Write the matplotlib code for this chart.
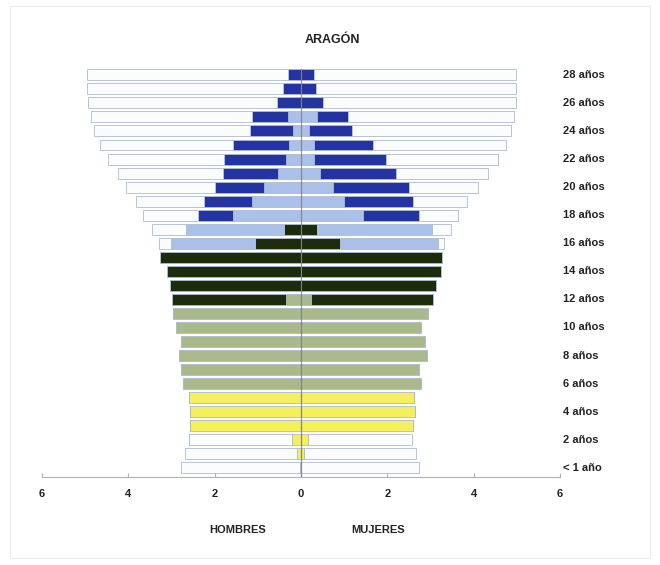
import numpy as np
import matplotlib
matplotlib.use('Agg')
import matplotlib.pyplot as plt
from matplotlib.patches import Rectangle

plt.rcParams['font.family'] = ['Liberation Sans', 'DejaVu Sans']

# edades 0..28
ages = np.arange(29)
age_labels = ['< 1 año'] + ['{} años'.format(a) for a in range(2, 29, 2)]
label_ages = [0] + list(range(2, 29, 2))

# miles de personas por nivel, desde el centro hacia fuera
# HOMBRES
h_infantil = [0.02, 0.09, 0.20, 2.57, 2.56, 2.59] + [0] * 23
h_primaria = [0] * 6 + [2.73, 2.78, 2.83, 2.78, 2.90, 2.97, 0.35] + [0] * 16
h_eso = [0] * 12 + [2.63, 3.03, 3.10, 3.27, 1.07, 0.39] + [0] * 11
h_post = [0] * 16 + [1.94, 2.27, 1.57, 1.14, 0.86, 0.54, 0.35, 0.28, 0.18, 0.31, 0, 0, 0]
h_univ = [0] * 18 + [0.81, 1.10, 1.13, 1.26, 1.43, 1.29, 0.99, 0.83, 0.55, 0.41, 0.31]
h_none = [2.76, 2.60, 2.39] + [0] * 13 + [0.28, 0.80, 1.27, 1.58, 2.07, 2.45, 2.70, 3.09, 3.63, 3.73, 4.38, 4.54, 4.65]

# MUJERES
m_infantil = [0.01, 0.07, 0.17, 2.60, 2.64, 2.62] + [0] * 23
m_primaria = [0] * 6 + [2.77, 2.74, 2.91, 2.87, 2.78, 2.95, 0.23] + [0] * 16
m_eso = [0] * 12 + [2.82, 3.12, 3.24, 3.27, 0.90, 0.36] + [0] * 11
m_post = [0] * 16 + [2.27, 2.67, 1.44, 1.00, 0.75, 0.44, 0.30, 0.29, 0.19, 0.36, 0, 0, 0]
m_univ = [0] * 18 + [1.30, 1.60, 1.76, 1.75, 1.66, 1.37, 0.98, 0.72, 0.52, 0.35, 0.29]
m_none = [2.72, 2.59, 2.39] + [0] * 13 + [0.15, 0.44, 0.89, 1.24, 1.60, 2.15, 2.61, 3.09, 3.69, 3.85, 4.46, 4.63, 4.69]

colors = ['#f4ef5a', '#a9b98a', '#1b2c0c', '#abc0e8', '#2333a1', '#fbfcfe']

fig = plt.figure(figsize=(6.6, 5.65), dpi=100)
ax = fig.add_axes([0.0636, 0.1558, 0.7849, 0.7292])

men = [h_infantil, h_primaria, h_eso, h_post, h_univ, h_none]
women = [m_infantil, m_primaria, m_eso, m_post, m_univ, m_none]

left_m = np.zeros(len(ages))
left_w = np.zeros(len(ages))
for vals_h, vals_m, c in zip(men, women, colors):
    vh = np.array(vals_h)
    vm = np.array(vals_m)
    ax.barh(ages, -vh, left=-left_m, height=0.78, color=c,
            edgecolor='#aebbd0', linewidth=0.6, zorder=2)
    ax.barh(ages, vm, left=left_w, height=0.78, color=c,
            edgecolor='#aebbd0', linewidth=0.6, zorder=2)
    left_m += vh
    left_w += vm

# linea central
ax.plot([0, 0], [-0.65, 28.4], color='#6f6f6f', lw=0.9, alpha=0.7, zorder=3)

ax.set_xlim(-6, 6)
ax.set_ylim(-0.65, 28.7)
ax.set_xticks([-6, -4, -2, 0, 2, 4, 6])
ax.set_xticklabels(['6', '4', '2', '0', '2', '4', '6'], fontsize=8, fontweight='bold', color='#222222')
ax.tick_params(axis='x', direction='in', length=3, color='#b0b0b0', pad=9)
ax.set_yticks([])
for s in ['top', 'right', 'left']:
    ax.spines[s].set_visible(False)
ax.spines['bottom'].set_color('#b0b0b0')
ax.spines['bottom'].set_linewidth(0.8)

for a, lab in zip(label_ages, age_labels):
    ax.text(6.06, a, lab, fontsize=8, fontweight='bold', color='#222222',
            va='center', ha='left', clip_on=False)

fig.text(0.503, 0.929, 'ARAGÓN', fontsize=9, fontweight='bold', ha='center', va='center', color='#222222')
fig.text(0.3606, 0.062, 'HOMBRES', fontsize=8, fontweight='bold', ha='center', va='center', color='#222222')
fig.text(0.5727, 0.062, 'MUJERES', fontsize=8, fontweight='bold', ha='center', va='center', color='#222222')

# marco tenue
fig.patches.append(Rectangle((10 / 660, 1 - 558 / 565), 640 / 660, 552 / 565,
                             transform=fig.transFigure, fill=False,
                             edgecolor='#ececec', linewidth=0.8))

fig.savefig('out.png', dpi=100)
